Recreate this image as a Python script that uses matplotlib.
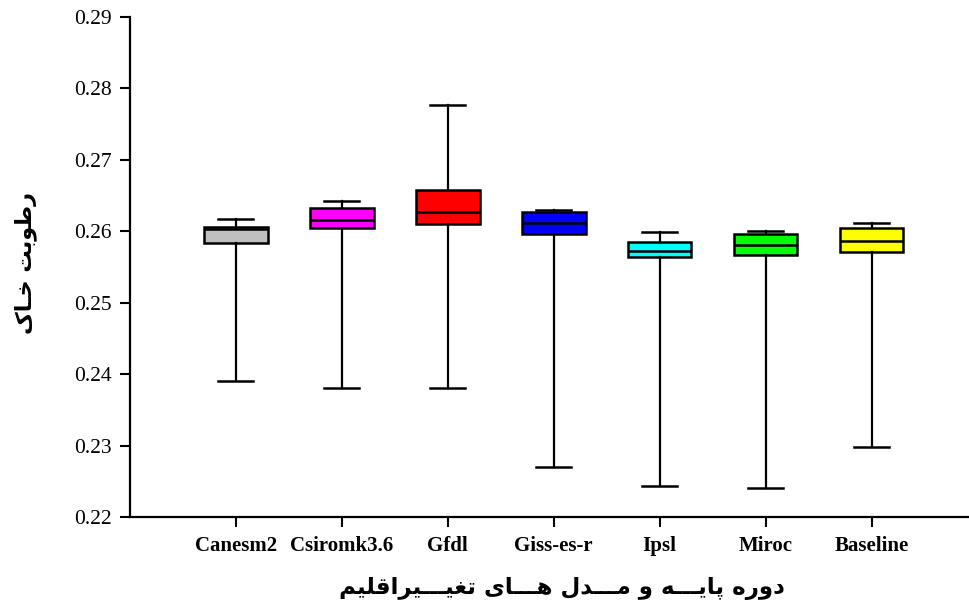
import matplotlib
matplotlib.use('Agg')
import matplotlib.pyplot as plt

# box plot values
models = ['Canesm2', 'Csiromk3.6', 'Gfdl', 'Giss-es-r', 'Ipsl', 'Miroc', 'Baseline']
whislo = [0.2390, 0.2381, 0.2381, 0.2270, 0.2244, 0.2240, 0.2298]
q1     = [0.2583, 0.2605, 0.2610, 0.2596, 0.2564, 0.2567, 0.2571]
med    = [0.2603, 0.2616, 0.2627, 0.2612, 0.2572, 0.2581, 0.2586]
q3     = [0.2606, 0.2633, 0.2658, 0.2627, 0.2585, 0.2596, 0.2605]
whishi = [0.2617, 0.2642, 0.2777, 0.2630, 0.2599, 0.2601, 0.2612]
colors = ['#c0c0c0', '#ff00ff', '#ff0000', '#0000ff', '#00ffff', '#00ff00', '#ffff00']
yticks = [0.22, 0.23, 0.24, 0.25, 0.26, 0.27, 0.28, 0.29]


def shape(s):
    # presentation forms are already in logical order, reverse for display
    return s[::-1]


# رطوبت خـاک
ylab = shape('\uFEAD\uFEC3\uFEEE\uFE91\uFE96 \uFEA7\u0640\uFE8E\uFB8E')
# دوره پایـــه و مـــدل هـــای تغیـــیراقلیم
xlab = shape('\uFEA9\uFEED\uFEAD\uFEE9 '
             '\uFB58\uFE8E\uFBFE\u0640\u0640\u0640\uFEEA '
             '\uFEED '
             '\uFEE3\u0640\u0640\u0640\uFEAA\uFEDD '
             '\uFEEB\u0640\u0640\u0640\uFE8E\uFBFC '
             '\uFE97\uFED0\uFBFF\u0640\u0640\u0640\uFBFF\uFEAE\uFE8D\uFED7\uFEE0\uFBFF\uFEE2')

stats = []
for i in range(len(models)):
    stats.append({'whislo': whislo[i], 'q1': q1[i], 'med': med[i],
                  'q3': q3[i], 'whishi': whishi[i], 'fliers': []})

fig = plt.figure(figsize=(9.69, 6.03), dpi=100)
ax = fig.add_axes([130/969, 1-517/603, 1-130/969, (517-17)/603])

bp = ax.bxp(stats, positions=range(1, 8), widths=0.6, patch_artist=True,
            showfliers=False,
            boxprops=dict(linewidth=1.8, edgecolor='black'),
            medianprops=dict(color='black', linewidth=1.8),
            whiskerprops=dict(color='black', linewidth=1.6),
            capprops=dict(color='black', linewidth=1.8), capwidths=0.33)
for b, c in zip(bp['boxes'], colors):
    b.set_facecolor(c)

ax.set_xlim(0, 7.92)
ax.set_ylim(0.22, 0.29)
ax.set_yticks(yticks)
ax.set_yticklabels(['%.2f' % v for v in yticks], family='Liberation Serif', fontsize=15.5)
ax.set_xticks(range(1, 8))
ax.set_xticklabels(models, family='Liberation Serif', fontweight='bold', fontsize=15)
ax.tick_params(axis='both', direction='out', length=7, width=1.5, color='black')
ax.tick_params(axis='y', pad=6)
ax.tick_params(axis='x', pad=7)
for s in ['top', 'right']:
    ax.spines[s].set_visible(False)
for s in ['left', 'bottom']:
    ax.spines[s].set_linewidth(1.6)

ax.set_ylabel(ylab, family='DejaVu Sans', fontweight='bold', fontsize=16, labelpad=27)
ax.set_xlabel(xlab, family='DejaVu Sans', fontweight='bold', fontsize=16.5, labelpad=15)
ax.yaxis.label.set_y(0.508)
ax.xaxis.label.set_x(0.515)

fig.savefig('out.png', dpi=100)
